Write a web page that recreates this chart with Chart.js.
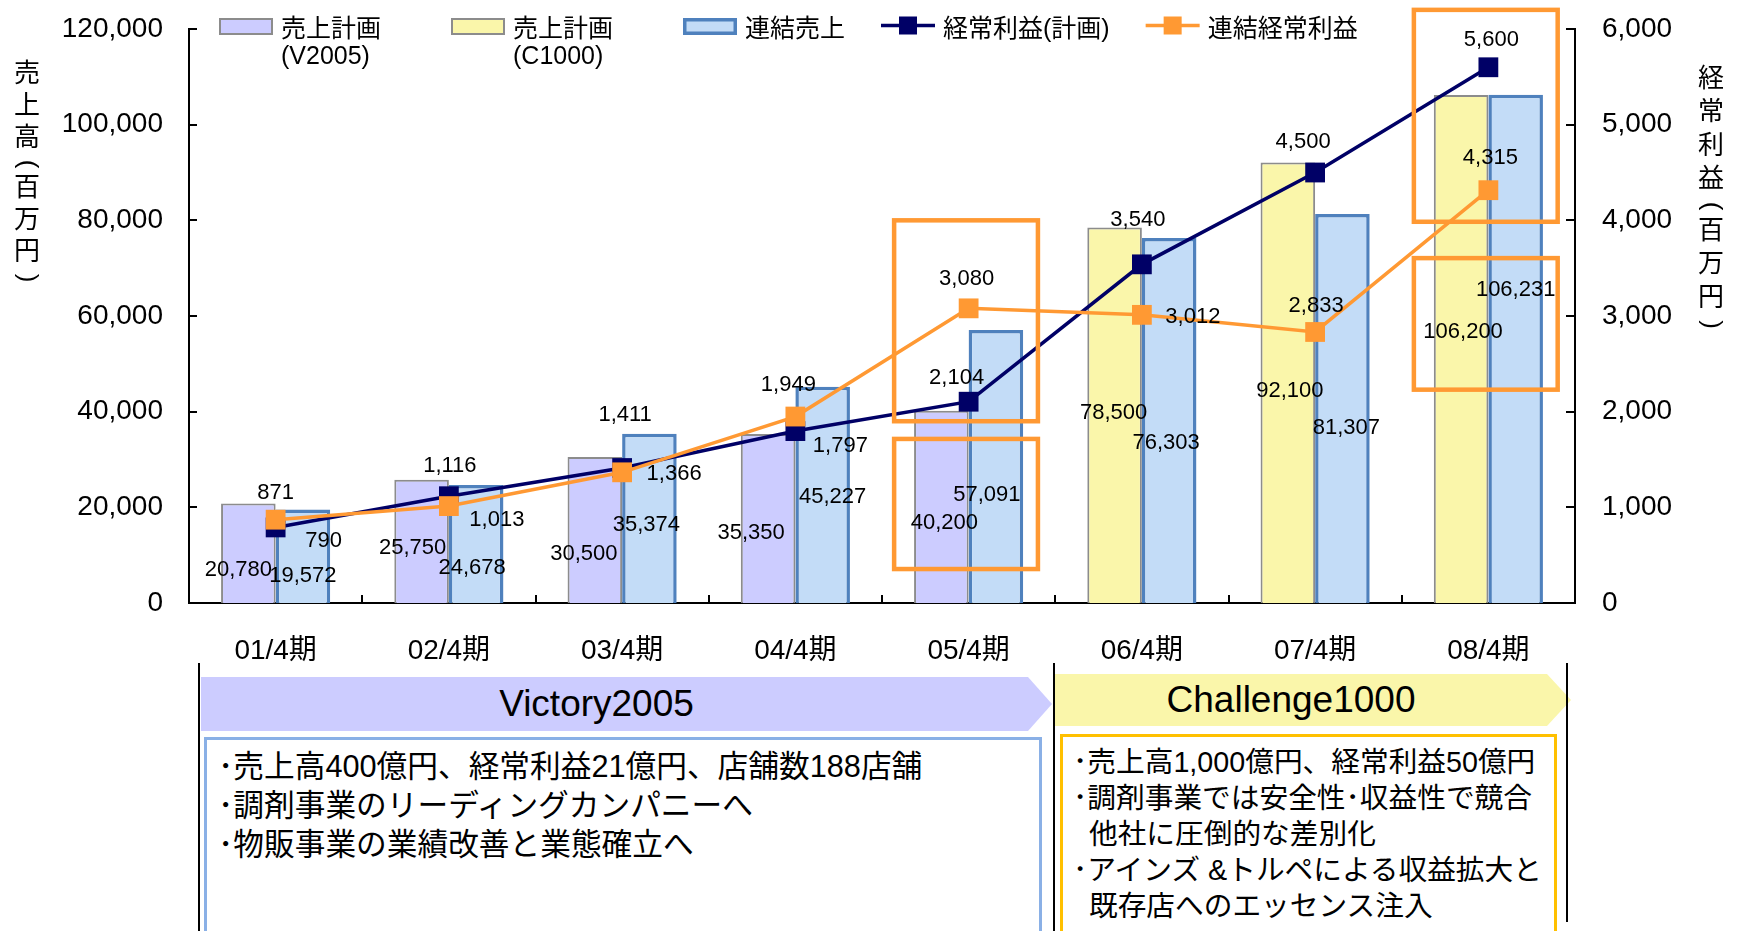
<!DOCTYPE html>
<html lang="ja">
<head>
<meta charset="utf-8">
<title>売上高・経常利益の推移</title>
<script src="https://cdn.jsdelivr.net/npm/chart.js@4.4.1/dist/chart.umd.min.js"></script>
<style>
  body { margin: 0; background: #fff; }
  #page {
    position: relative; width: 1738px; height: 931px; overflow: hidden;
    font-family: "Liberation Sans", "Noto Sans CJK JP", sans-serif; color: #000;
  }
  #salesChart { position: absolute; left: 0; top: 0; }
  .vline { position: absolute; width: 2px; background: #000; z-index: 3; }
  .band {
    position: absolute; top: 677px; height: 54px;
    display: flex; align-items: center; justify-content: center;
    font-size: 37px; box-sizing: border-box;
    clip-path: polygon(0 0, calc(100% - 24px) 0, 100% 50%, calc(100% - 24px) 100%, 0 100%);
  }
  .band.v2005 { left: 201px; width: 851px; background: #CCCCFF; padding-right: 60px; }
  .band.c1000 { left: 1055px; width: 516px; background: #FAF6AA; padding-right: 44px; top: 674px; height: 52px; }
  .note {
    position: absolute; box-sizing: border-box; height: 240px;
    background: #fff;
  }
  .note div { white-space: nowrap; }
  .note .cont { padding-left: 16px; }
  .note.v2005 {
    left: 204px; top: 737px; width: 838px; border: 3px solid #8AB0E6;
    font-size: 30.7px; line-height: 39px; padding: 7px 0 0 11px;
  }
  .note.c1000 {
    left: 1060px; top: 734px; width: 497px; border: 3px solid #FFC000;
    font-size: 28.7px; line-height: 36px; padding: 7px 0 0 10px;
  }
</style>
</head>
<body>
<div id="page">
  <canvas id="salesChart" width="1738" height="665"></canvas>

  <div class="vline" style="left:198px; top:663px; height:268px;"></div>
  <div class="vline" style="left:1053px; top:663px; height:268px;"></div>
  <div class="vline" style="left:1566px; top:663px; height:259px;"></div>

  <div class="band v2005">Victory2005</div>
  <div class="band c1000">Challenge1000</div>

  <div class="note v2005">
    <div>･売上高400億円、経常利益21億円、店舗数188店舗</div>
    <div>･調剤事業のリーディングカンパニーへ</div>
    <div>･物販事業の業績改善と業態確立へ</div>
  </div>
  <div class="note c1000">
    <div>･売上高1,000億円、経常利益50億円</div>
    <div>･調剤事業では安全性･収益性で競合</div>
    <div class="cont">他社に圧倒的な差別化</div>
    <div>･アインズ &amp;トルペによる収益拡大と</div>
    <div class="cont">既存店へのエッセンス注入</div>
  </div>
</div>

<script>
// categories and series (百万円)
const periods = ["01/4期", "02/4期", "03/4期", "04/4期", "05/4期", "06/4期", "07/4期", "08/4期"];
const salesPlanV2005 = [20780, 25750, 30500, 35350, 40200, null, null, null];
const salesPlanC1000 = [null, null, null, null, null, 78500, 92100, 106200];
const salesActual = [19572, 24678, 35374, 45227, 57091, 76303, 81307, 106231];
const profitPlan = [790, 1116, 1411, 1797, 2104, 3540, 4500, 5600];
const profitActual = [871, 1013, 1366, 1949, 3080, 3012, 2833, 4315];

// axis ranges
const salesMax = 120000, salesStep = 20000;
const profitMax = 6000, profitStep = 1000;

// orange highlight frames: category index and left-axis range
const highlightBoxes = [
  { index: 4, from: 38000, to: 80000 },
  { index: 4, from: 7100, to: 34300 },
  { index: 7, from: 79700, to: 124000 },
  { index: 7, from: 44600, to: 72100 }
];

// where each value label sits, in px from its bar top / point
const labelOffsets = {
  plan: [[-10, 66], [-9, 68], [-11, 97], [-17, 99], [3, 112], [-1, 185], [2, 228], [2, 237]],
  actual: [[0, 67], [-4, 83], [-3, 91], [10, 110], [-9, 165], [-3, 205], [4, 214], [0, 195]],
  profitPlan: [[48, 14], [1, -30], [3, -53], [45, 15], [-12, -24], [-4, -44], [-12, -31], [3, -27]],
  profitActual: [[0, -27], [48, 14], [52, 2], [-7, -32], [-2, -29], [51, 2], [1, -26], [2, -32]]
};

const fam = '"Liberation Sans", "Noto Sans CJK JP", sans-serif';
Chart.defaults.font.family = fam;
Chart.defaults.color = "#000";

// value labels
const valueLabels = {
  id: "valueLabels",
  afterDatasetsDraw(chart) {
    const { ctx, scales: { x, y } } = chart;
    ctx.save();

    // highlight frames first, labels on top
    const catW = x.width / chart.data.labels.length;
    ctx.strokeStyle = "#FF9933";
    ctx.lineWidth = 4.5;
    highlightBoxes.forEach(b => {
      const cx = x.getPixelForValue(b.index);
      const top = y.getPixelForValue(b.to);
      const bottom = y.getPixelForValue(b.from);
      ctx.strokeRect(cx - catW * 0.43, top, catW * 0.83, bottom - top);
    });

    ctx.font = "22px " + fam;
    ctx.fillStyle = "#000";
    ctx.textAlign = "center";
    ctx.textBaseline = "middle";
    chart.data.datasets.forEach((ds, di) => {
      const offs = labelOffsets[ds.key];
      const meta = chart.getDatasetMeta(di);
      meta.data.forEach((el, i) => {
        const v = ds.data[i];
        if (v == null) return;
        ctx.fillText(v.toLocaleString("en-US"), el.x + offs[i][0], el.y + offs[i][1]);
      });
    });
    ctx.restore();
  }
};

// short tick marks pointing into the plot
const innerTicks = {
  id: "innerTicks",
  afterDraw(chart) {
    const { ctx, chartArea: a, scales: { x, y, y1 } } = chart;
    ctx.save();
    ctx.strokeStyle = "#000";
    ctx.lineWidth = 2;
    ctx.beginPath();
    y.ticks.forEach((t, i) => {
      const py = Math.round(y.getPixelForTick(i));
      ctx.moveTo(a.left, py); ctx.lineTo(a.left + 8, py);
    });
    y1.ticks.forEach((t, i) => {
      const py = Math.round(y1.getPixelForTick(i));
      ctx.moveTo(a.right, py); ctx.lineTo(a.right - 9, py);
    });
    for (let i = 1; i < x.ticks.length; i++) {
      const px = Math.round((x.getPixelForTick(i - 1) + x.getPixelForTick(i)) / 2);
      ctx.moveTo(px, a.bottom); ctx.lineTo(px, a.bottom - 8);
    }
    ctx.stroke();
    ctx.restore();
  }
};

// upright vertical axis titles
function drawVertical(ctx, text, cx, top, step) {
  ctx.save();
  ctx.font = "26px " + fam;
  ctx.fillStyle = "#000";
  ctx.textAlign = "center";
  ctx.textBaseline = "middle";
  let yy = top;
  for (const ch of text) {
    const paren = ch === "(" || ch === ")";
    const h = paren ? 18 : step;
    const cy = yy + h / 2;
    if (paren) {
      ctx.save();
      ctx.translate(cx, cy);
      ctx.rotate(Math.PI / 2);
      ctx.fillText(ch, 0, 0);
      ctx.restore();
    } else {
      ctx.fillText(ch, cx, cy);
    }
    yy += h;
  }
  ctx.restore();
}

const axisTitles = {
  id: "axisTitles",
  afterDraw(chart) {
    drawVertical(chart.ctx, "売上高(百万円)", 27, 59, 32);
    drawVertical(chart.ctx, "経常利益(百万円)", 1711, 63, 33.5);
  }
};

// legend across the top, over the plot
const topLegend = {
  id: "topLegend",
  afterDraw(chart) {
    const ctx = chart.ctx;
    ctx.save();
    ctx.font = "25px " + fam;
    ctx.textBaseline = "middle";
    ctx.textAlign = "left";
    let x = chart.chartArea.left + 30;
    chart.data.datasets.forEach(ds => {
      const lines = [].concat(ds.label);
      if (ds.type === "line") {
        ctx.strokeStyle = ds.borderColor;
        ctx.lineWidth = 3.5;
        ctx.beginPath(); ctx.moveTo(x, 25.5); ctx.lineTo(x + 54, 25.5); ctx.stroke();
        ctx.fillStyle = ds.backgroundColor;
        ctx.fillRect(x + 18, 16.5, 18, 18);
      } else {
        const bw = ds.borderWidth;
        ctx.fillStyle = ds.backgroundColor;
        ctx.fillRect(x, 18, 54, 17);
        ctx.strokeStyle = ds.borderColor;
        ctx.lineWidth = bw;
        ctx.strokeRect(x + bw / 2, 18 + bw / 2, 54 - bw, 17 - bw);
      }
      ctx.fillStyle = "#000";
      let w = 0;
      lines.forEach((t, k) => {
        ctx.fillText(t, x + 62, 30 + k * 27);
        w = Math.max(w, ctx.measureText(t).width);
      });
      x += 62 + w + (lines.length > 1 ? 70 : 36);
    });
    ctx.restore();
  }
};

const axisBorder = { display: true, color: "#000", width: 2 };
const tickFont = { size: 28, family: fam };

// fixed axis sizes; tick label overhang must not push the plot down
function pinWidth(w) {
  return s => { s.width = w; s.paddingTop = 0; s.paddingBottom = 0; };
}

new Chart(document.getElementById("salesChart").getContext("2d"), {
  type: "bar",
  data: {
    labels: periods,
    datasets: [
      {
        key: "plan", label: ["売上計画", "(V2005)"], data: salesPlanV2005,
        stack: "plan", order: 2, yAxisID: "y",
        backgroundColor: "#CCCCFF", borderColor: "#8C8C8C", borderWidth: 2
      },
      {
        key: "plan", label: ["売上計画", "(C1000)"], data: salesPlanC1000,
        stack: "plan", order: 2, yAxisID: "y",
        backgroundColor: "#FAF6AA", borderColor: "#8C8C8C", borderWidth: 2
      },
      {
        key: "actual", label: "連結売上", data: salesActual,
        stack: "actual", order: 2, yAxisID: "y",
        backgroundColor: "#C3DCF7", borderColor: "#4F81BD", borderWidth: 3.5
      },
      {
        key: "profitPlan", type: "line", label: "経常利益(計画)", data: profitPlan,
        yAxisID: "y1", order: 1,
        borderColor: "#000066", backgroundColor: "#000066", borderWidth: 3.5,
        pointStyle: "rect", pointRadius: 14, pointBorderWidth: 0, tension: 0
      },
      {
        key: "profitActual", type: "line", label: "連結経常利益", data: profitActual,
        yAxisID: "y1", order: 0,
        borderColor: "#FF9933", backgroundColor: "#FF9933", borderWidth: 3.5,
        pointStyle: "rect", pointRadius: 14, pointBorderWidth: 0, tension: 0
      }
    ]
  },
  options: {
    responsive: false,
    animation: false,
    layout: { padding: { top: 29, left: 0, right: 0, bottom: 0 } },
    datasets: { bar: { categoryPercentage: 0.63, barPercentage: 1 } },
    plugins: {
      legend: { display: false },
      tooltip: { enabled: false }
    },
    scales: {
      x: {
        grid: { display: false, drawTicks: false },
        border: axisBorder,
        ticks: { font: tickFont, padding: 31, maxRotation: 0 },
        afterFit(s) { s.height = 62; }
      },
      y: {
        position: "left", min: 0, max: salesMax,
        grid: { display: false, drawTicks: false },
        border: axisBorder,
        ticks: { stepSize: salesStep, font: tickFont, padding: 26 },
        afterFit: pinWidth(189)
      },
      y1: {
        position: "right", min: 0, max: profitMax,
        grid: { display: false, drawTicks: false },
        border: axisBorder,
        ticks: { stepSize: profitStep, font: tickFont, padding: 27 },
        afterFit: pinWidth(163)
      }
    }
  },
  plugins: [valueLabels, innerTicks, axisTitles, topLegend]
});
</script>
</body>
</html>
